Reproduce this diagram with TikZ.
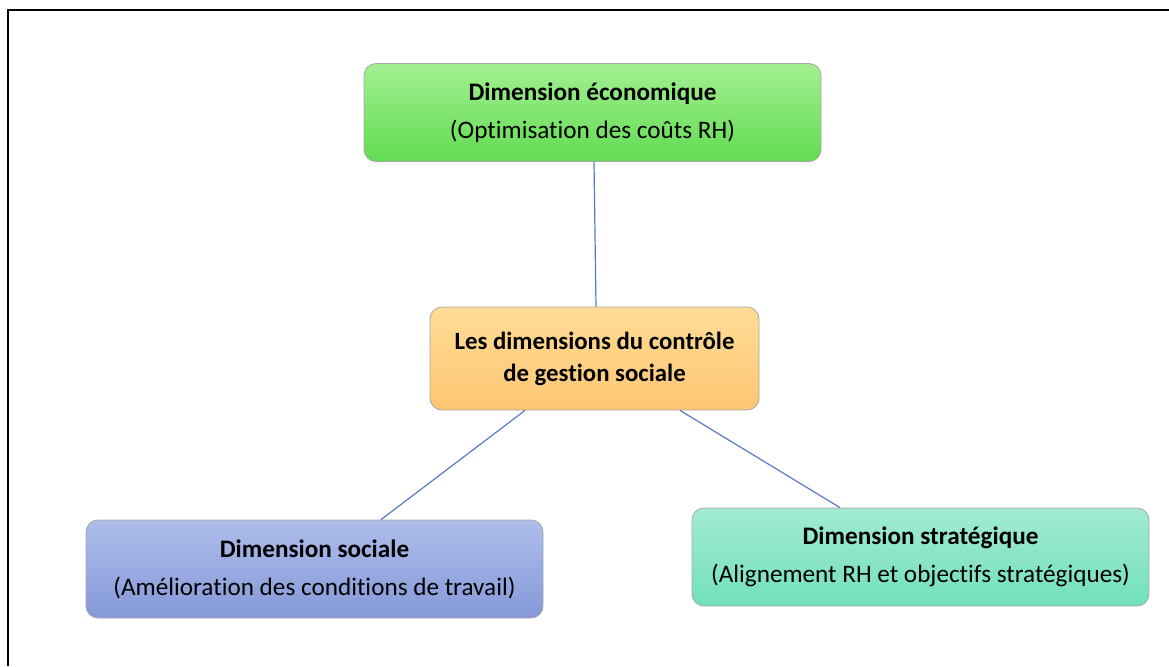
\documentclass[tikz,border=0pt]{standalone}
\usepackage{fontspec}
\setmainfont{Carlito}[Ligatures=NoCommon]
\usetikzlibrary{positioning}

\definecolor{ecoTop}{HTML}{A3F091}
\definecolor{ecoBot}{HTML}{62DB52}
\definecolor{midTop}{HTML}{FFDC96}
\definecolor{midBot}{HTML}{FDC673}
\definecolor{socTop}{HTML}{AEBDEA}
\definecolor{socBot}{HTML}{8499D9}
\definecolor{strTop}{HTML}{A2EBD3}
\definecolor{strBot}{HTML}{72E0BB}
\definecolor{linkBlue}{HTML}{5A78C4}

\tikzset{
    dimbox/.style={rounded corners=6pt, draw=black!35, line width=0.4pt,
        minimum width=228.5pt, minimum height=49pt, align=center,
        inner sep=0pt, font=\fontsize{12.6}{19}\selectfont},
    link/.style={linkBlue, line width=0.6pt}
}

\begin{document}
\begin{tikzpicture}[x=0.5pt, y=-0.5pt]
    \useasboundingbox (0,0) rectangle (1169,666);
    % The frame round the picture.
        \draw[line width=1pt] (8,666) -- (8,10) -- (1169,10);
    % Below nodes are the boxes.
        \node[dimbox, top color=ecoTop, bottom color=ecoBot] (eco) at (592.5,112.5)
            {\textbf{Dimension économique}\\(Optimisation des coûts RH)};
        \node[dimbox, top color=midTop, bottom color=midBot, minimum width=164.5pt,
            minimum height=51.5pt, font=\fontsize{12.4}{16}\selectfont\bfseries] (mid) at (594.5,358.5)
            {Les dimensions du contrôle\\de gestion sociale};
        \node[dimbox, top color=socTop, bottom color=socBot] (soc) at (314.5,569)
            {\textbf{Dimension sociale}\\(Amélioration des conditions de travail)};
        \node[dimbox, top color=strTop, bottom color=strBot] (str) at (920.5,557)
            {\textbf{Dimension stratégique}\\(Alignement RH et objectifs stratégiques)};
    % This draws the links.
        \draw[link] ([xshift=0.75pt]eco.south) -- ([xshift=0.75pt]mid.north);
        \draw[link] ([xshift=-34.75pt]mid.south) -- ([xshift=33.25pt]soc.north);
        \draw[link] ([xshift=42.75pt]mid.south) -- ([xshift=-40.25pt]str.north);
\end{tikzpicture}
\end{document}
